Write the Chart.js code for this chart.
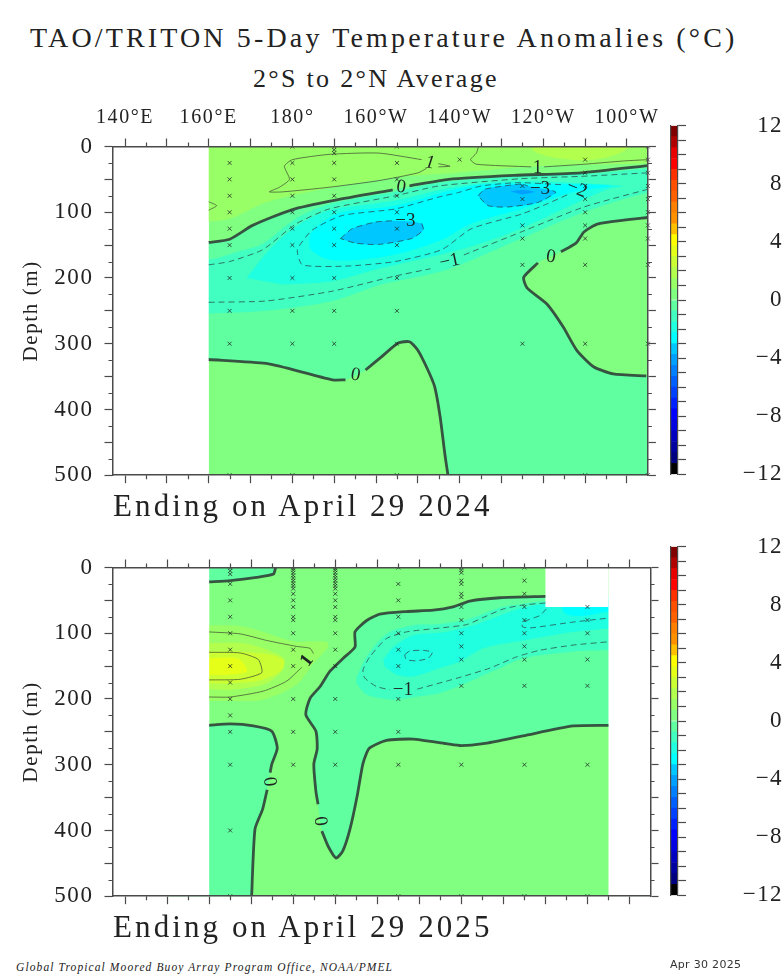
<!DOCTYPE html>
<html>
<head>
<meta charset="utf-8">
<title>TAO/TRITON 5-Day Temperature Anomalies</title>
<script src="https://cdn.jsdelivr.net/npm/chart.js@4/dist/chart.umd.min.js"></script>
<style>
  html, body { margin: 0; padding: 0; background: #fff; }
  body { position: relative; width: 783px; height: 979px; overflow: hidden; font-family: "Liberation Serif", serif; color: #222; }
  canvas { position: absolute; }
  .txt { position: absolute; white-space: nowrap; line-height: 1; }
  #title { left: 30px; top: 24px; font-size: 28px; letter-spacing: 3.15px; }
  #subtitle { left: 253px; top: 66px; font-size: 26px; letter-spacing: 2.3px; }
  .ending { left: 113px; font-size: 31px; letter-spacing: 3.1px; }
  #footer { left: 16px; top: 962px; font-size: 11.5px; font-style: italic; letter-spacing: 1.1px; }
  #stamp { left: 670px; top: 959px; font-size: 11px; font-family: "DejaVu Sans", sans-serif; color: #333; letter-spacing: 0.3px; }
</style>
</head>
<body>
<div class="txt" id="title">TAO/TRITON 5-Day Temperature Anomalies (°C)</div>
<div class="txt" id="subtitle">2°S to 2°N Average</div>
<canvas id="panel-2024" width="665" height="400" style="left:0;top:100px"></canvas>
<canvas id="bar-2024" width="123" height="400" style="left:660px;top:100px"></canvas>
<div class="txt ending" style="top:490px">Ending on April 29 2024</div>
<canvas id="panel-2025" width="665" height="400" style="left:0;top:521px"></canvas>
<canvas id="bar-2025" width="123" height="400" style="left:660px;top:521px"></canvas>
<div class="txt ending" style="top:911px">Ending on April 29 2025</div>
<div class="txt" id="footer">Global Tropical Moored Buoy Array Program Office, NOAA/PMEL</div>
<div class="txt" id="stamp">Apr 30 2025</div>

<script>
// axis ticks
const xMajorTicks = [140, 150, 160, 170, 180, 190, 200, 210, 220, 230, 240, 250, 260];
const xMinorTicks = [145, 155, 165, 175, 185, 195, 205, 215, 225, 235, 245, 255];
const xTickLabels = ['140°E', '', '160°E', '', '180°', '', '160°W', '', '140°W', '', '120°W', '', '100°W'];
const yMajorTicks = [0, 50, 100, 150, 200, 250, 300, 350, 400, 450, 500];
const yMinorTicks = [25, 75, 125, 175, 225, 275, 325, 375, 425, 475];
const yTickLabels = ['0', '', '100', '', '200', '', '300', '', '400', '', '500'];

// colour key, one colour per 0.75 degree band from -12 up to 12
const barLevels = [-12, -11.25, -10.5, -9.75, -9, -8.25, -7.5, -6.75, -6, -5.25, -4.5, -3.75, -3, -2.25, -1.5, -0.75, 0,
  0.75, 1.5, 2.25, 3, 3.75, 4.5, 5.25, 6, 6.75, 7.5, 8.25, 9, 9.75, 10.5, 11.25, 12];
const barColors = ['#000000', '#000080', '#0000a0', '#0000c0', '#0000e0', '#0000ff', '#0020ff', '#0040ff', '#0060ff', '#0080ff',
  '#00a0ff', '#00c8ff', '#00ffff', '#20ffe0', '#40ffc0', '#60ffa0', '#80ff80', '#99ff66', '#b3ff4d', '#ccff33', '#e6ff19',
  '#ffff00', '#ffc000', '#ff9000', '#ff8000', '#ff6000', '#ff5000', '#ff3000', '#ff0000', '#e80000', '#b00000', '#800000'];
const barTicks = [-12, -11, -10, -9, -8, -7, -6, -5, -4, -3, -2, -1, 0, 1, 2, 3, 4, 5, 6, 7, 8, 9, 10, 11, 12];
const barLabeled = [-12, -8, -4, 0, 4, 8, 12];

// sampling sites, depths per longitude
const sites2024 = [
  [165, [25, 50, 75, 100, 125, 150, 200, 250, 300, 500]],
  [180, [0, 25, 50, 75, 100, 125, 150, 200, 250, 300, 500]],
  [190, [0, 5, 10, 25, 50, 75, 100, 125, 150, 200, 250, 300]],
  [205, [0, 25, 50, 75, 100, 125, 150, 200, 250, 300, 500]],
  [220, [20]],
  [235, [60, 80, 120, 140, 180, 300]],
  [250, [20, 40, 60, 80, 100, 120, 140, 180, 300, 500]],
  [265, [0, 20, 40, 60, 80, 100, 120, 140, 180, 300, 500]],
];
const sites2025 = [
  [165, [0, 5, 10, 25, 50, 75, 100, 125, 150, 175, 200, 225, 250, 300, 400, 500]],
  [180, [1, 4, 8, 12, 16, 20, 24, 28, 32, 40, 50, 60, 75, 80, 100, 125, 150, 200, 250, 300, 500]],
  [190, [1, 4, 8, 12, 16, 20, 24, 28, 32, 40, 50, 60, 75, 80, 100, 125, 150, 200, 250, 300, 500]],
  [205, [0, 25, 50, 75, 100, 125, 150, 200, 250, 300, 500]],
  [220, [0, 4, 8, 20, 25, 40, 45, 60, 80, 100, 120, 140, 180, 300, 500]],
  [235, [0, 20, 40, 60, 80, 100, 120, 140, 180, 300, 500]],
  [250, [60, 80, 100, 140, 180, 300, 500]],
];

// 2024 contours as [longitude east, depth], null where a label breaks the line
const c24ZeroUpper = [[160, 146], [165, 141], [170.5, 120], [180, 96], [190, 82], [204, 66], null, [208, 60], [217.4, 50], [233, 44], [249, 40], [265, 29]];
const c24ZeroEast = [[265, 108], [259.2, 112], [252.9, 118], [249.7, 130], [247.8, 147], [244.2, 160], null, [238.7, 177], [235.3, 199],
  [236.1, 215], [240.9, 240], [244.8, 275], [248, 310], [252, 335], [256.7, 346], [264.6, 349]];
const c24ZeroWest = [[160, 324], [173.7, 330], [181.7, 342], [189.6, 355], [192.7, 355], null, [197.5, 340], [201.3, 320], [205.3, 299], [208, 297],
  [210, 310], [212.4, 340], [214, 365], [215.3, 410], [216.5, 470], [217.2, 500]];
const c24PlusWest = [[210.9, 20], [200.6, 10], [188.8, 12], [180, 20], [178.1, 30], [179.3, 50], [176.9, 62], [174.5, 69], [177.7, 69], [188.8, 62],
  [200.6, 52], [210.1, 40], [212.1, 33], null, [214.9, 31], [217.7, 30], [214.9, 26]];
const c24PlusEast = [[224.5, 0], [224, 10], [222.6, 20], [224, 27], [237.1, 31], null, [240.2, 31], [249.7, 27], [259.2, 22], [265, 20]];
const c24PlusEdge = [[160, 84], [161.9, 90], [160, 97]];
const c24MinusOneUpper = [[160, 180], [165, 175], [172.9, 157], [180.8, 118], [188.8, 95], [204.6, 75], [215, 60], [234.7, 49], [250.5, 45], [265, 40]];
const c24MinusOneLower = [[160, 237], [173.7, 235], [189.6, 220], [204.6, 197], [213, 186], null, [221, 165], [234.7, 130], [249.7, 92], [265, 65]];
const c24MinusTwo = [[244.2, 58], [233.9, 55], [225.2, 60], [219.7, 70], [214.9, 77], [204.6, 95], [191.9, 105], [184.8, 127], [181.2, 157], [182.4, 180],
  [192.7, 182], [204.6, 175], [215.7, 157], [222.8, 125], [234.7, 103], [241, 87], [246.2, 72]];
const c24MinusThreeWest = [[191.5, 140], [194.3, 125], [199.8, 115], [203.8, 113], null, [210.9, 117], [211.3, 127], [208.5, 140], [200.6, 149], [195.1, 147], [191.5, 140]];
const c24MinusThreeEast = [[224.4, 75], [226, 65], [234.7, 57], [236.3, 60], null, [242.2, 67], [243, 70], [238.7, 85], [231.5, 92], [226.8, 90], [224.4, 75]];

// 2024 colour band edges that do not follow a contour
const b24Warm1 = [[150, -30], [272, -30], [272, 25], [265, 26], [238.6, 30], [214.9, 42], [204.6, 47], [189.5, 62], [173.7, 85], [165, 110], [160, 114], [150, 115]];
const b24Warm2 = [[236, -10], [238, 8], [243, 17], [250, 21], [256, 15], [260, 3], [260, -10]];
const b24Cold1 = [[150, 172], [160, 172], [167, 160], [172.9, 148], [180.8, 110], [188.8, 88], [204.6, 69], [215, 55], [234.7, 45], [250.5, 41], [272, 35],
  [272, 65], [265, 70], [249.7, 100], [234.7, 140], [217.1, 187], [201.3, 210], [189.6, 235], [173.7, 250], [160, 254], [150, 254]];
const b24Cold2 = [[169, 200], [174.5, 157], [180.8, 122], [188.8, 97], [204.6, 82], [216, 65], [225.2, 56], [234.7, 53], [246.6, 55], [259, 60],
  [255.9, 64], [249.9, 80], [234.6, 125], [221.1, 155], [201.3, 185], [189.6, 205], [177.7, 210]];
const b24Cold3 = [[184, 142], [184.4, 157], [188.8, 172], [196.7, 172], [206.2, 162], [215.7, 142], [222.8, 117], [234.7, 95], [246.6, 70], [256.1, 60],
  [245, 57], [226.8, 57], [218.9, 65], [204.6, 90], [191.9, 100], [187.2, 115], [184.4, 132]];
const b24Cold4 = [[232, 68], [235, 66], [238, 69], [235, 73]];

// 2025 contours
const c25ZeroNorth = [[160, 22], [165, 20], [171.3, 15], [175.3, 10], [175.8, 0]];
const c25ZeroMain = [[240, 44], [229.2, 46], [222, 51], [218, 60], [213.3, 65], [206.9, 67], [200.6, 71], [197.4, 81], [194.7, 98], [194.7, 121], [191.9, 138],
  [188.7, 158], [186.4, 181], [184, 199], [183, 224], [185.4, 249], [185.7, 276], [184.9, 299], [185.4, 341], [185.9, 360], null,
  [186.8, 401], [188.3, 424], [190.2, 442], [191.8, 431], [193.5, 398], [195.2, 348], [196.6, 298], [198.1, 275], [202.2, 263], [208.5, 261],
  [216.4, 268], [220, 271], [225.2, 268], [234.7, 256], [246.6, 241], [255, 240]];
const c25ZeroSouth = [[160, 240], [165, 238], [170.5, 241], [174.9, 249], [176.2, 275], [174.9, 299], [174.5, 312], null, [173.8, 338], [172.7, 368], [170.9, 398], [170.1, 500]];
const c25PlusOneUpper = [[160, 98], [167.4, 101], [173.7, 111], [180.8, 120], [184, 123], [184.8, 131]];
const c25PlusOneLower = [[182, 152], [178.4, 173], [172.9, 188], [165, 197], [160, 197]];
const c25PlusTwo = [[160, 129], [167.4, 130], [171.7, 140], [172.5, 160], [167.4, 170], [160, 171]];
const c25MinusOneMain = [[240, 54], [234.7, 57], [230, 63], [225.2, 76], [221.2, 87], [214.9, 92], [206.9, 98], [202.2, 108], [198.2, 136], [196.6, 156], [197, 168],
  [199.8, 181], [203, 186], null, [209.5, 185], [216.4, 173], [219.7, 167], [226.8, 153], [233.1, 136], [238.6, 126], [246.6, 118], [255, 113]];
const c25MinusOneEast = [[240.2, 63], [238.7, 73], [234.7, 83], [234.5, 90], [236.3, 92], [246.6, 83], [255, 77]];
const c25MinusTwo = [[206.5, 133], [207.7, 127], [210.9, 126], [213.1, 129], [212.1, 138], [209.3, 142], [206.9, 140], [206.5, 133]];

// 2025 colour band edges
const b25Warm1 = [[150, 88], [160, 88], [167.4, 89], [172.9, 98], [180, 112], [187.9, 113], [188.3, 121], [184.8, 146], [180.8, 178], [172.9, 201], [165, 203], [160, 203], [150, 203]];
const b25Warm2 = [[150, 115], [160, 115], [168.9, 116], [176, 131], [178, 141], [176.9, 161], [172.9, 178], [165, 186], [160, 185], [150, 185]];
const b25Warm3 = [[150, 128], [160, 128], [167, 128], [174.9, 133], [177.7, 141], [177.3, 156], [172.5, 171], [165.4, 176], [160, 176], [150, 176]];
const b25Warm4 = [[150, 138], [160, 138], [167, 139], [169, 158], [164.6, 163], [160, 163], [150, 163]];
const b25Cold1 = [[195.1, 166], [197.4, 136], [202.2, 101], [208.5, 88], [215, 86], [222, 78], [229.2, 61], [234, 56], [240, 51], [262, 50],
  [262, 127], [255, 126], [246.6, 128], [234.7, 138], [229.2, 153], [222.8, 171], [214.9, 191], [210.1, 196], [203.8, 201], [197.4, 193], [195, 176]];
const b25Cold2 = [[201.4, 141], [203.8, 121], [208.5, 103], [216.4, 98], [222.8, 88], [229.2, 73], [234.7, 61], [240.2, 55], [262, 55],
  [262, 93], [255, 93], [246.6, 98], [234.7, 111], [225.2, 123], [219.7, 143], [214.9, 153], [208.5, 166], [204.6, 163], [201.8, 151]];
const b25Cold3 = [[243.4, 55], [245, 71], [249.7, 73], [255, 67], [262, 65], [262, 55]];

// contour labels: text, longitude, depth, rotation in degrees
const labels2024 = [
  ['1', 212.9, 25, 8, 'italic'], ['1', 238.6, 32, 0, ''], ['0', 206, 62, 8, ''], ['0', 241.8, 168, 8, ''], ['0', 195.1, 348, 10, ''],
  ['−3', 207, 113, 0, ''], ['−3', 239.2, 65, 0, ''], ['−2', 248, 65, 22, ''], ['−1', 217.6, 175, -12, ''],
];
const labels2025 = [
  ['1', 183.3, 142, -52, 'bold'], ['−1', 206.1, 186, 0, ''], ['0', 174.3, 326, 82, ''], ['0', 186.4, 386, 82, ''],
];

const LINE_COLOR = '#4a4a4a';

function toPoints(list) {
  return list.map((p) => (p ? { x: p[0], y: p[1] } : { x: null, y: null }));
}

// Contour without its label breaks, for building a fill outline
function solid(list) {
  return list.filter((p) => p);
}

function bandColor(value) {
  for (let i = 0; i < barColors.length; i++) {
    if (value >= barLevels[i] && value < barLevels[i + 1]) return barColors[i];
  }
  return '#ffffff';
}

function fillSet(points, color, tension = 0.3) {
  return {
    data: toPoints(points),
    showLine: true,
    fill: 'shape',
    backgroundColor: color,
    borderWidth: 0,
    pointRadius: 0,
    tension: tension,
    capBezierPoints: false,
  };
}

function lineSet(points, kind) {
  const styles = {
    zero: { borderColor: 'rgba(45, 60, 55, 0.88)', borderWidth: 2.8, borderDash: [] },
    plus: { borderColor: 'rgba(60, 70, 50, 0.7)', borderWidth: 1, borderDash: [] },
    minus: { borderColor: 'rgba(40, 70, 75, 0.75)', borderWidth: 1, borderDash: [6, 4] },
  };
  return Object.assign({
    data: toPoints(points),
    showLine: true,
    fill: false,
    pointRadius: 0,
    tension: 0.2,
    capBezierPoints: false,
  }, styles[kind]);
}

function siteSet(sites) {
  const pts = [];
  sites.forEach(([lon, depths]) => depths.forEach((d) => pts.push({ x: lon, y: d })));
  return {
    data: pts,
    showLine: false,
    pointStyle: 'crossRot',
    pointRadius: 2.8,
    pointBorderWidth: 0.9,
    pointBorderColor: 'rgba(30, 40, 35, 0.85)',
    clip: { left: 6, top: 0, right: 6, bottom: 0 },
  };
}

const fieldBox = [[160, 0], [265, 0], [265, 500], [160, 500]];
const maskWest = [[137, 0], [160, 0], [160, 500], [137, 500]];
const maskEast = [[255, 0], [265, 0], [265, 500], [255, 500]];
const maskNotch = [[240, 0], [255, 0], [255, 60], [240, 60]];

function datasets2024() {
  const below = [[150, 147], ...solid(c24ZeroUpper), [272, 28], [272, 106], ...solid(c24ZeroEast), [272, 350], [272, 530], [218, 530],
    ...solid(c24ZeroWest).reverse(), [150, 323]];
  const painted = [
    fillSet(fieldBox, bandColor(0.4), 0),
    fillSet(b24Warm1, bandColor(1)),
    fillSet(b24Warm2, bandColor(1.8)),
    fillSet(below, bandColor(-0.4)),
    fillSet(b24Cold1, bandColor(-1)),
    fillSet(b24Cold2, bandColor(-2)),
    fillSet(b24Cold3, bandColor(-2.6)),
    fillSet(solid(c24MinusThreeWest), bandColor(-3.4)),
    fillSet(solid(c24MinusThreeEast), bandColor(-3.4)),
    fillSet(b24Cold4, bandColor(-4)),
    fillSet(maskWest, '#ffffff', 0),
    lineSet(c24PlusWest, 'plus'),
    lineSet(c24PlusEast, 'plus'),
    lineSet(c24PlusEdge, 'plus'),
    lineSet(c24MinusOneUpper, 'minus'),
    lineSet(c24MinusOneLower, 'minus'),
    lineSet(c24MinusTwo, 'minus'),
    lineSet(c24MinusThreeWest, 'minus'),
    lineSet(c24MinusThreeEast, 'minus'),
    lineSet(c24ZeroUpper, 'zero'),
    lineSet(c24ZeroEast, 'zero'),
    lineSet(c24ZeroWest, 'zero'),
    siteSet(sites2024),
  ];
  return painted.reverse(); // Chart.js paints the first dataset last
}

function datasets2025() {
  const north = [[150, -30], [176, -30], ...solid(c25ZeroNorth).reverse(), [150, 23]];
  const main = [[262, 44], ...solid(c25ZeroMain), [262, 240]];
  const south = [[150, 240], ...solid(c25ZeroSouth), [170, 530], [150, 530]];
  const painted = [
    fillSet(fieldBox, bandColor(0.4), 0),
    fillSet(north, bandColor(-0.4)),
    fillSet(main, bandColor(-0.4)),
    fillSet(south, bandColor(-0.4)),
    fillSet(b25Warm1, bandColor(1)),
    fillSet(b25Warm2, bandColor(1.8)),
    fillSet(b25Warm3, bandColor(2.6)),
    fillSet(b25Warm4, bandColor(3.3)),
    fillSet(b25Cold1, bandColor(-1)),
    fillSet(b25Cold2, bandColor(-2)),
    fillSet(b25Cold3, bandColor(-2.6)),
    fillSet(maskWest, '#ffffff', 0),
    fillSet(maskEast, '#ffffff', 0),
    fillSet(maskNotch, '#ffffff', 0),
    lineSet(c25PlusOneUpper, 'plus'),
    lineSet(c25PlusOneLower, 'plus'),
    lineSet(c25PlusTwo, 'plus'),
    lineSet(c25MinusOneMain, 'minus'),
    lineSet(c25MinusOneEast, 'minus'),
    lineSet(c25MinusTwo, 'minus'),
    lineSet(c25ZeroNorth, 'zero'),
    lineSet(c25ZeroMain, 'zero'),
    lineSet(c25ZeroSouth, 'zero'),
    siteSet(sites2025),
  ];
  return painted.reverse();
}

// Short ticks, contour labels and the wide lettering of the tick labels
function panelMarks(contourLabels) {
  return {
    id: 'panelMarks',
    beforeDraw(chart) {
      chart.ctx.letterSpacing = '1.6px';
    },
    afterDraw(chart) {
      const ctx = chart.ctx;
      const { x, y } = chart.scales;
      const area = chart.chartArea;
      ctx.save();
      ctx.letterSpacing = '0px';
      ctx.strokeStyle = LINE_COLOR;
      ctx.lineWidth = 1.2;
      ctx.beginPath();
      xMinorTicks.forEach((v) => {
        const px = Math.round(x.getPixelForValue(v)) + 0.5;
        ctx.moveTo(px, area.top);
        ctx.lineTo(px, area.top - 4);
        ctx.moveTo(px, area.bottom);
        ctx.lineTo(px, area.bottom + 4);
      });
      yMinorTicks.forEach((v) => {
        const py = Math.round(y.getPixelForValue(v)) + 0.5;
        ctx.moveTo(area.left, py);
        ctx.lineTo(area.left - 4, py);
        ctx.moveTo(area.right, py);
        ctx.lineTo(area.right + 4, py);
      });
      ctx.stroke();

      ctx.fillStyle = '#1d2622';
      ctx.textAlign = 'center';
      ctx.textBaseline = 'middle';
      contourLabels.forEach(([text, lon, depth, rot, style]) => {
        ctx.save();
        ctx.translate(x.getPixelForValue(lon), y.getPixelForValue(depth));
        ctx.rotate((rot * Math.PI) / 180);
        ctx.font = `${style} 19px "Liberation Serif"`;
        ctx.fillText(text, 0, 0);
        ctx.restore();
      });
      ctx.restore();
    },
  };
}

function panelChart(id, datasets, contourLabels, showTopLabels) {
  const axisBase = {
    type: 'linear',
    bounds: 'data',
    border: { color: LINE_COLOR, width: 1.5, z: 1 },
    grid: { drawOnChartArea: false, tickLength: 8, tickColor: LINE_COLOR, tickWidth: 1.2 },
  };
  const xLike = (position, height, labels) => Object.assign({}, axisBase, {
    position: position,
    min: 137,
    max: 265,
    afterBuildTicks: (s) => { s.ticks = xMajorTicks.map((value) => ({ value })); },
    afterFit: (s) => { s.height = height; },
    ticks: {
      display: labels,
      autoSkip: false,
      maxRotation: 0,
      padding: 9,
      color: '#222',
      font: { size: 20 },
      callback: (v) => xTickLabels[xMajorTicks.indexOf(v)],
    },
  });
  const yLike = (position, width, labels) => Object.assign({}, axisBase, {
    position: position,
    min: 0,
    max: 500,
    reverse: true,
    afterBuildTicks: (s) => { s.ticks = yMajorTicks.map((value) => ({ value })); },
    afterFit: (s) => { s.width = width; },
    title: {
      display: labels,
      text: 'Depth (m)',
      color: '#222',
      font: { size: 21 },
      padding: { top: 19, bottom: 0 },
    },
    ticks: {
      display: labels,
      autoSkip: false,
      padding: 11,
      color: '#222',
      font: { size: 23 },
      callback: (v) => yTickLabels[yMajorTicks.indexOf(v)],
    },
  });

  return new Chart(document.getElementById(id), {
    type: 'scatter',
    data: { datasets: datasets },
    plugins: [panelMarks(contourLabels)],
    options: {
      responsive: false,
      animation: false,
      events: [],
      layout: { padding: 0 },
      plugins: { legend: { display: false }, tooltip: { enabled: false } },
      scales: {
        x: xLike('bottom', 20.5, false),
        xTop: xLike('top', 46.5, showTopLabels),
        y: yLike('left', 112.5, true),
        yRight: yLike('right', 14.5, false),
      },
    },
  });
}

function colorBar(id) {
  const sets = barColors.map((color, i) => ({
    data: [[barLevels[i], barLevels[i + 1]]],
    backgroundColor: color,
    borderWidth: 0,
    barPercentage: 1,
    categoryPercentage: 1,
    grouped: false,
  }));
  return new Chart(document.getElementById(id), {
    type: 'bar',
    data: { labels: ['key'], datasets: sets },
    plugins: [{ id: 'wide', beforeDraw(chart) { chart.ctx.letterSpacing = '1.4px'; } }],
    options: {
      responsive: false,
      animation: false,
      events: [],
      layout: { padding: 0 },
      plugins: { legend: { display: false }, tooltip: { enabled: false } },
      scales: {
        x: { display: false },
        yEdge: {
          type: 'linear',
          position: 'left',
          min: -12,
          max: 12,
          afterFit: (s) => { s.width = 10.5; },
          ticks: { display: false },
          grid: { drawOnChartArea: false, drawTicks: false },
          border: { color: LINE_COLOR, width: 1.2, z: 1 },
        },
        y: {
          type: 'linear',
          position: 'right',
          min: -12,
          max: 12,
          bounds: 'data',
          afterBuildTicks: (s) => { s.ticks = barTicks.map((value) => ({ value })); },
          afterFit: (s) => { s.width = 105; },
          border: { color: LINE_COLOR, width: 1.2, z: 1 },
          grid: { drawOnChartArea: false, tickLength: 8, tickColor: LINE_COLOR, tickWidth: 1.2 },
          ticks: {
            autoSkip: false,
            crossAlign: 'far',
            padding: 12,
            color: '#222',
            font: { size: 23 },
            callback: (v) => (barLabeled.includes(v) ? String(v).replace('-', '−') : ''),
          },
        },
      },
    },
  });
}

Chart.defaults.font.family = '"Liberation Serif", serif';
panelChart('panel-2024', datasets2024(), labels2024, true);
panelChart('panel-2025', datasets2025(), labels2025, false);
colorBar('bar-2024');
colorBar('bar-2025');
</script>
</body>
</html>
